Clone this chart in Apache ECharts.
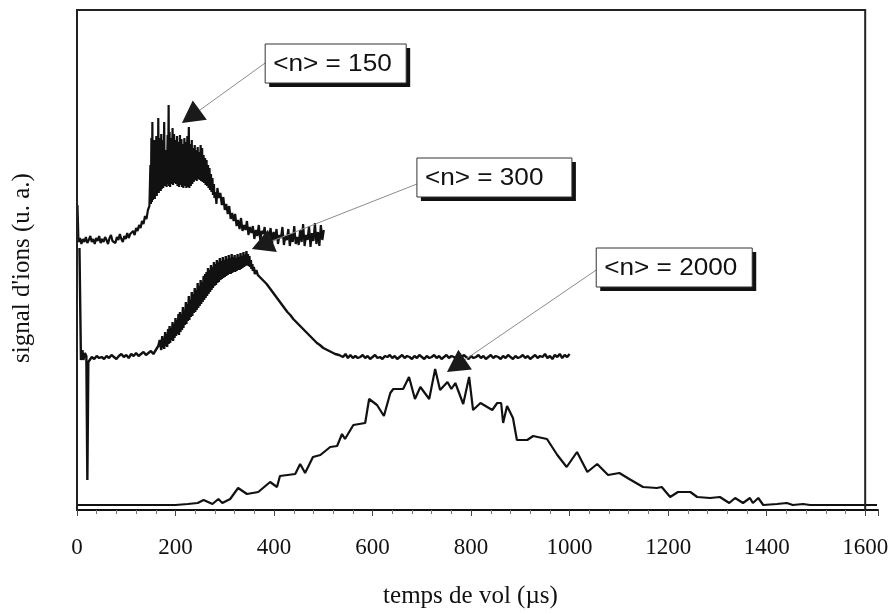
<!DOCTYPE html>
<html>
<head>
<meta charset="utf-8">
<title>temps de vol</title>
<script src="https://cdn.jsdelivr.net/npm/echarts@6/dist/echarts.min.js"></script>
<style>
  html, body { margin: 0; padding: 0; background: #fff; }
  #chart { width: 893px; height: 614px; }
</style>
</head>
<body>
<div id="chart"></div>
<script>
// tick labels of the time axis (µs)
const xTicks = [0, 200, 400, 600, 800, 1000, 1200, 1400, 1600];
const noteLabels = ['<n> = 150', '<n> = 300', '<n> = 2000'];

// <n> = 150 : [temps (µs), signal (u. a.)]
const trace150 = [
  [1, 305], [3, 268], [6, 272], [9, 266], [12, 271], [15, 268], [18, 273], [21, 267], [24, 270],
  [27, 274], [30, 268], [33, 271], [36, 266], [39, 272], [42, 269], [45, 274], [48, 267], [51, 271],
  [54, 268], [57, 273], [60, 270], [63, 266], [66, 272], [69, 275], [72, 269], [75, 271], [78, 267],
  [81, 273], [84, 270], [87, 276], [90, 271], [93, 268], [96, 274], [99, 271], [102, 277], [105, 272],
  [108, 276], [111, 274], [114, 279], [117, 275], [120, 282], [123, 279], [126, 285], [129, 282],
  [132, 289], [135, 286], [138, 294], [141, 291], [144, 300], [147, 304],
  [149, 345], [150, 306], [151, 372], [152, 308], [153, 388], [154, 310], [155, 362], [156, 312],
  [157, 370], [158, 311], [159, 366], [160, 315], [161, 374], [162, 314], [163, 368], [164, 318],
  [165, 392], [166, 317], [167, 372], [168, 320], [169, 366], [170, 319], [171, 376], [172, 321],
  [174, 370], [175, 322], [177, 388], [178, 324], [179, 352], [180, 325], [181, 360], [182, 323],
  [184, 375], [185, 326], [186, 405], [187, 324], [188, 378], [189, 323], [191, 372], [192, 326],
  [194, 382], [195, 325], [197, 376], [198, 327], [200, 370], [201, 326], [203, 374], [204, 324],
  [206, 368], [207, 323], [209, 375], [210, 325], [212, 371], [213, 323], [215, 366], [216, 322],
  [218, 372], [219, 324], [221, 368], [222, 322], [224, 374], [225, 323], [227, 383], [228, 322],
  [230, 366], [231, 324], [233, 370], [234, 326], [236, 362], [237, 328], [239, 365], [240, 330],
  [242, 360], [243, 329], [245, 363], [246, 331], [248, 358], [249, 330], [251, 365], [252, 329],
  [254, 362], [255, 328], [257, 355], [258, 327], [260, 352], [261, 325], [263, 350], [264, 324],
  [266, 345], [267, 322], [269, 342], [270, 320], [272, 336], [273, 318], [275, 332], [276, 315],
  [278, 326], [279, 312], [281, 318], [283, 306],
  [285, 322], [288, 312], [291, 317], [294, 305], [297, 313], [300, 300], [303, 306], [306, 296],
  [309, 304], [312, 291], [315, 297], [318, 289], [321, 296], [324, 284], [327, 290], [330, 281],
  [333, 292], [336, 279], [339, 285], [342, 280], [345, 289], [348, 275], [351, 283], [354, 277],
  [357, 284], [360, 271], [363, 280], [366, 274], [369, 285], [372, 270], [375, 279], [378, 276],
  [381, 283], [384, 268], [387, 276], [390, 273], [393, 282], [396, 267], [399, 278], [402, 270],
  [405, 281], [408, 266], [411, 275], [414, 272], [417, 283], [420, 265], [423, 274], [426, 270],
  [429, 281], [432, 264], [435, 276], [438, 268], [441, 284], [444, 266], [447, 273], [450, 265],
  [453, 280], [456, 268], [459, 286], [462, 264], [465, 275], [468, 270], [471, 284], [474, 263],
  [477, 277], [480, 269], [483, 287], [486, 266], [489, 278], [492, 264], [495, 285], [498, 270],
  [501, 280]
];

// <n> = 300
const trace300 = [
  [5, 262], [8, 150], [11, 160], [13, 150], [16, 157], [19, 154], [21, 30], [23, 148], [26, 150],
  [30, 153], [35, 151], [40, 154], [45, 152], [50, 153], [55, 151], [60, 154], [65, 152], [70, 155],
  [75, 153], [80, 151], [85, 154], [90, 156], [95, 153], [100, 155], [105, 152], [110, 156],
  [115, 154], [120, 157], [125, 154], [130, 156], [135, 158], [140, 155], [145, 157], [150, 159],
  [155, 156], [160, 160], [165, 164], [168, 170],
  [170, 168], [171, 160], [173, 174], [174, 162], [176, 172], [177, 161], [179, 178], [180, 164],
  [182, 176], [183, 163], [185, 181], [186, 166], [188, 184], [189, 167], [191, 182], [192, 170],
  [194, 188], [195, 169], [197, 186], [198, 172], [200, 192], [201, 174], [203, 190], [204, 176],
  [206, 196], [207, 175], [209, 198], [210, 178], [212, 196], [213, 180], [215, 203], [216, 182],
  [218, 200], [219, 185], [221, 208], [222, 186], [224, 206], [225, 189], [227, 214], [228, 190],
  [230, 210], [231, 193], [233, 218], [234, 194], [236, 216], [237, 197], [239, 222], [240, 198],
  [242, 220], [243, 200], [245, 227], [246, 202], [248, 224], [249, 204], [251, 230], [252, 206],
  [254, 228], [255, 208], [257, 234], [258, 210], [260, 236], [261, 212], [263, 238], [264, 214],
  [266, 242], [267, 216], [269, 240], [270, 218], [272, 245], [273, 220], [275, 243], [276, 222],
  [278, 248], [279, 224], [281, 246], [282, 225], [284, 250], [285, 227], [287, 248], [288, 228],
  [290, 252], [291, 230], [293, 249], [294, 231], [296, 253], [297, 232], [299, 250], [300, 233],
  [302, 254], [303, 234], [305, 251], [306, 235], [308, 255], [309, 236], [311, 252], [312, 236],
  [314, 256], [315, 237], [317, 253], [318, 238], [320, 255], [321, 238], [323, 252], [324, 239],
  [326, 256], [327, 240], [329, 253], [330, 240], [332, 257], [333, 241], [335, 254], [336, 242],
  [338, 258], [339, 243], [341, 255], [342, 244], [344, 259], [345, 245], [347, 256], [348, 244],
  [350, 254], [351, 243], [353, 250], [354, 241], [356, 246], [357, 239], [359, 243], [361, 236],
  [364, 240], [367, 235], [370, 237], [373, 232], [376, 234], [379, 229], [382, 231], [385, 226],
  [388, 228], [391, 222], [394, 224], [397, 218], [400, 220], [403, 214], [406, 216], [409, 210],
  [412, 212], [415, 206], [418, 208], [421, 202], [424, 204], [427, 198], [430, 200], [433, 195],
  [436, 197], [439, 191], [442, 193], [445, 188], [448, 190], [451, 185], [454, 187], [457, 182],
  [460, 184], [463, 179], [466, 181], [469, 176], [472, 178], [475, 173], [478, 175], [481, 170],
  [484, 172], [487, 167], [490, 169], [493, 165], [496, 167], [500, 162], [504, 164], [508, 160],
  [512, 162], [516, 158], [520, 160], [524, 156], [528, 158], [532, 155], [536, 157], [540, 153],
  [545, 156], [550, 152], [555, 155], [560, 152],
  [565, 154], [570, 152], [575, 153], [580, 155], [585, 152], [590, 154], [595, 151], [600, 153],
  [605, 155], [610, 152], [615, 153], [620, 151], [625, 154], [630, 153], [635, 155], [640, 152],
  [645, 154], [650, 151], [655, 153], [660, 155], [665, 152], [670, 154], [675, 153], [680, 151],
  [685, 154], [690, 152], [695, 155], [700, 153], [705, 151], [710, 154], [715, 152], [720, 153],
  [725, 155], [730, 152], [735, 154], [740, 151], [745, 153], [750, 155], [755, 152], [760, 154],
  [765, 153], [770, 151], [775, 154], [780, 152], [785, 155], [790, 153], [795, 151], [800, 154],
  [805, 152], [810, 153], [815, 155], [820, 152], [825, 154], [830, 151], [835, 153], [840, 155],
  [845, 152], [850, 154], [855, 153], [860, 151], [865, 154], [870, 152], [875, 155], [880, 153],
  [885, 151], [890, 154], [895, 152], [900, 153], [905, 155], [910, 152], [915, 154], [920, 151],
  [925, 153], [930, 155], [935, 152], [940, 154], [945, 153], [950, 156], [955, 152], [960, 154],
  [965, 151], [970, 155], [975, 153], [980, 156], [985, 152], [990, 155], [995, 153], [1000, 156]
];

// <n> = 2000
const trace2000 = [
  [0, 5], [100, 5], [200, 5], [225, 6], [245, 7], [257, 10], [275, 6], [287, 11], [295, 7],
  [311, 11], [327, 22], [345, 16], [368, 18], [392, 28], [406, 23], [412, 34], [443, 36],
  [453, 46], [463, 37], [479, 53], [494, 55], [514, 63], [528, 64], [538, 76], [544, 71],
  [561, 85], [585, 87], [593, 111], [609, 105], [623, 94], [636, 117], [642, 121], [662, 121],
  [674, 133], [686, 111], [697, 123], [715, 111], [727, 141], [737, 120], [752, 128], [760, 121],
  [768, 127], [784, 106], [796, 133], [804, 100], [819, 107], [843, 100], [853, 107], [861, 107],
  [865, 87], [873, 104], [885, 92], [893, 70], [914, 70], [926, 74], [954, 71], [975, 55],
  [994, 43], [1015, 58], [1036, 38], [1056, 46], [1078, 35], [1101, 37], [1121, 31], [1149, 23],
  [1177, 22], [1187, 23], [1204, 13], [1220, 18], [1245, 18], [1259, 13], [1285, 12], [1305, 13],
  [1324, 7], [1336, 12], [1352, 7], [1366, 12], [1372, 7], [1383, 12], [1393, 5], [1421, 6],
  [1441, 7], [1453, 5], [1474, 6], [1488, 5], [1520, 5], [1580, 5], [1624, 5]
];

const chart = echarts.init(document.getElementById('chart'));
const serif = "'Liberation Serif', 'Times New Roman', serif";

function traceSeries(name, data, width) {
  return {
    name: name,
    type: 'line',
    data: data,
    showSymbol: false,
    symbol: 'none',
    clip: false,
    lineStyle: { color: '#111', width: width },
    z: 3
  };
}

const option = {
  animation: false,
  backgroundColor: '#fff',
  grid: { left: 77, right: 15, top: 10, bottom: 104 },
  xAxis: {
    type: 'value',
    min: 0,
    max: 1626,
    interval: 200,
    name: 'temps de vol (µs)',
    nameLocation: 'middle',
    nameGap: 74,
    nameTextStyle: { fontFamily: serif, fontSize: 25, color: '#111', padding: [0, 14, 0, 0] },
    axisLine: { lineStyle: { color: '#111', width: 2 } },
    axisTick: { length: 6, lineStyle: { color: '#444', width: 1 } },
    minorTick: { show: true, splitNumber: 5, length: 4, lineStyle: { color: '#777', width: 1 } },
    splitLine: { show: false },
    axisLabel: {
      margin: 26,
      fontFamily: serif,
      fontSize: 23,
      color: '#111',
      formatter: v => (xTicks.indexOf(v) >= 0 ? String(v) : '')
    }
  },
  yAxis: {
    type: 'value',
    min: 0,
    max: 500,
    name: "signal d'ions (u. a.)",
    nameLocation: 'middle',
    nameGap: 42,
    nameTextStyle: { fontFamily: serif, fontSize: 25, color: '#111', padding: [0, 16, 0, 0] },
    axisLine: { show: true, lineStyle: { color: '#111', width: 2 } },
    axisTick: { show: false },
    axisLabel: { show: false },
    splitLine: { show: false }
  },
  series: [
    traceSeries(noteLabels[0], trace150, 2.2),
    traceSeries(noteLabels[1], trace300, 2.4),
    traceSeries(noteLabels[2], trace2000, 2.2)
  ]
};
chart.setOption(option);

// frame, annotation boxes and arrows, placed in data coordinates
const px = p => chart.convertToPixel({ gridIndex: 0 }, p);
const graphics = [];

const frame = [[0, 0], [0, 500], [1600, 500], [1600, 0]].map(px);
graphics.push({
  type: 'polyline',
  shape: { points: frame },
  style: { stroke: '#222', lineWidth: 2, fill: null },
  z: 5
});

function addNote(label, boxAt, boxW, from, tip) {
  const b = px(boxAt);
  const s = px(from);
  const t = px(tip);
  const h = 39;
  const dx = t[0] - s[0], dy = t[1] - s[1];
  const len = Math.sqrt(dx * dx + dy * dy);
  const ux = dx / len, uy = dy / len;
  const L = 22, W = 24;
  const bx = t[0] - ux * L, by = t[1] - uy * L;
  graphics.push({
    type: 'line',
    shape: { x1: s[0], y1: s[1], x2: bx, y2: by },
    style: { stroke: '#8c8c8c', lineWidth: 1 },
    z: 6
  });
  graphics.push({
    type: 'polygon',
    shape: { points: [t, [bx - uy * W / 2, by + ux * W / 2], [bx + uy * W / 2, by - ux * W / 2]] },
    style: { fill: '#1a1a1a' },
    z: 7
  });
  graphics.push({
    type: 'rect',
    shape: { x: b[0] + 4, y: b[1] + 4, width: boxW, height: h },
    style: { fill: '#111' },
    z: 8
  });
  graphics.push({
    type: 'rect',
    shape: { x: b[0], y: b[1], width: boxW, height: h },
    style: { fill: '#fff', stroke: '#333', lineWidth: 1 },
    z: 9
  });
  graphics.push({
    type: 'text',
    x: b[0] + 8,
    y: b[1] + h / 2 + 1,
    scaleX: 1.09,
    style: {
      text: label,
      font: "24px 'Liberation Sans', Arial, sans-serif",
      fill: '#111',
      verticalAlign: 'middle'
    },
    z: 10
  });
}

addNote(noteLabels[0], [382, 466], 141, [382, 447], [213, 387]);
addNote(noteLabels[1], [690, 352], 155, [690, 326], [355, 261]);
addNote(noteLabels[2], [1054, 262], 156, [1054, 240], [751, 138]);

chart.setOption({ graphic: graphics });
</script>
</body>
</html>
